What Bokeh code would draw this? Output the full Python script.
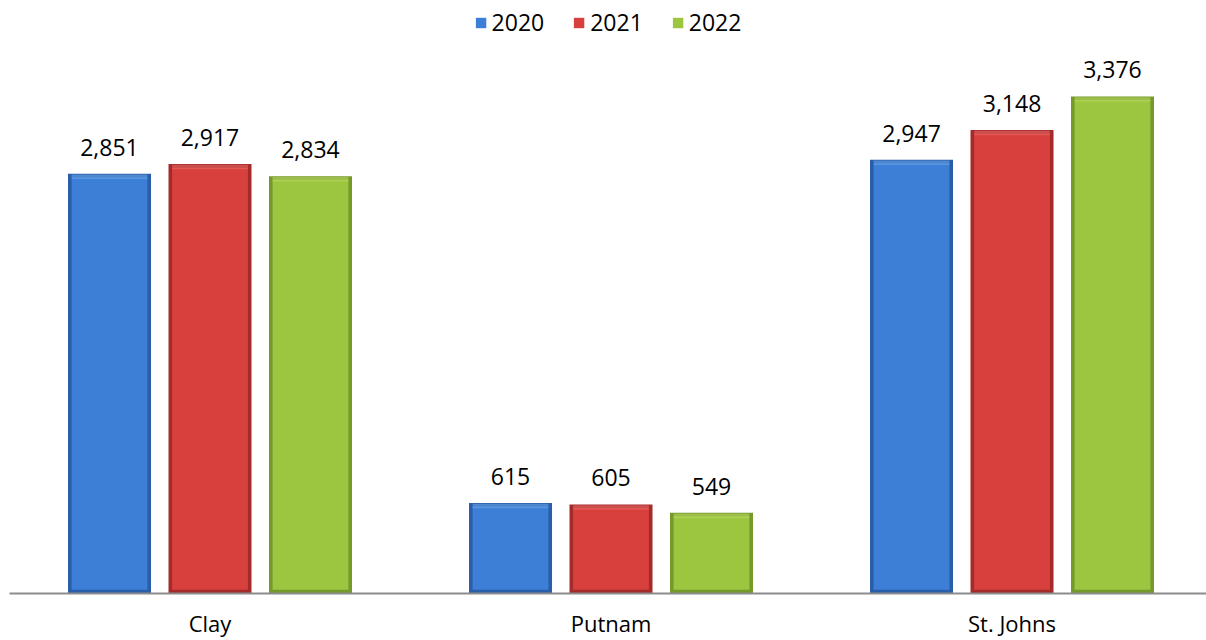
from bokeh.plotting import figure
from bokeh.models import Range1d, FixedTicker, ColumnDataSource, LabelSet, Legend, LegendItem
from bokeh.core.properties import value
from bokeh.embed import file_html
from bokeh.resources import INLINE

categories = ["Clay", "Putnam", "St. Johns"]
years = ["2020", "2021", "2022"]
values_2020 = [2851, 615, 2947]
values_2021 = [2917, 605, 3148]
values_2022 = [2834, 549, 3376]

series = [values_2020, values_2021, values_2022]
main_colors = ["#3d7fd6", "#d8403e", "#9cc63f"]
edge_colors = ["#2b5ea8", "#a52b2b", "#76992b"]
light_colors = ["#6ea9ee", "#ee6d69", "#bbdd64"]

FONT = "Open Sans"

p = figure(width=1206, height=640,
           x_range=Range1d(-0.5, 2.485), y_range=Range1d(0, 4028),
           output_backend="svg", toolbar_location=None,
           min_border_left=9, min_border_right=0, min_border_top=0, min_border_bottom=47,
           y_axis_location=None, outline_line_color=None)
p.xgrid.visible = False
p.ygrid.visible = False
p.background_fill_color = "white"
p.border_fill_color = "white"

pitch = 0.2506
bar_w = 0.207
inset_x = 0.009
inset_y = 26
hl = 36

main_renderers = []
for i, vals in enumerate(series):
    xs = [c + (i - 1) * pitch for c in range(len(categories))]
    src = ColumnDataSource(dict(
        x=xs, top=vals,
        inner_top=[v - inset_y for v in vals],
        hl_bottom=[v - hl for v in vals],
        hl_top=[v - 5 for v in vals],
        label=[f"{v:,}" for v in vals],
    ))
    p.vbar(x="x", top="top", bottom=0, width=bar_w, source=src,
           fill_color=edge_colors[i], line_color=None)
    r = p.vbar(x="x", top="inner_top", bottom=inset_y, width=bar_w - 2 * inset_x, source=src,
               fill_color=main_colors[i], line_color=None)
    main_renderers.append(r)
    p.vbar(x="x", top="hl_top", bottom="hl_bottom", width=bar_w - 2 * inset_x, source=src,
           fill_color=light_colors[i], fill_alpha=0.55, line_color=None)
    labels = LabelSet(x="x", y="top", text="label", source=src, y_offset=18,
                      text_align="center", text_baseline="alphabetic",
                      text_font=value(FONT), text_font_size="23px", text_color="#000000")
    p.add_layout(labels)

legend = Legend(items=[LegendItem(label=years[i], renderers=[main_renderers[i]]) for i in range(3)],
                orientation="horizontal", location="top_center",
                label_text_font=FONT, label_text_font_size="23px", label_text_color="#000000",
                glyph_width=13, glyph_height=13, label_standoff=5, spacing=28,
                padding=0, margin=6, border_line_color=None, background_fill_alpha=0)
p.add_layout(legend)

p.xaxis.ticker = FixedTicker(ticks=list(range(len(categories))))
p.xaxis.major_label_overrides = {i: c for i, c in enumerate(categories)}
p.xaxis.major_tick_line_color = None
p.xaxis.major_tick_out = 0
p.xaxis.major_tick_in = 0
p.xaxis.minor_tick_line_color = None
p.xaxis.axis_line_color = "#8c8c8c"
p.xaxis.axis_line_width = 2
p.xaxis.major_label_text_font = FONT
p.xaxis.major_label_text_font_size = "22px"
p.xaxis.major_label_text_color = "#000000"
p.xaxis.major_label_standoff = 14

open("out.html", "w").write(file_html(p, INLINE))
